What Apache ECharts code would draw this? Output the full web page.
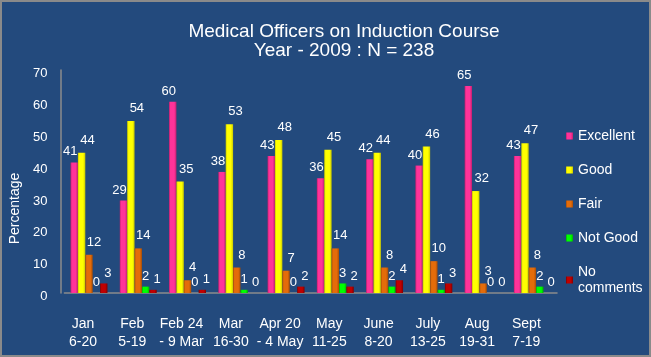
<!DOCTYPE html>
<html>
<head>
<meta charset="utf-8">
<script src="https://cdn.jsdelivr.net/npm/echarts@6/dist/echarts.min.js"></script>
<style>
html,body{margin:0;padding:0;background:#234a7d;}
#wrap{position:relative;width:651px;height:357px;}
#chart{position:absolute;left:0;top:0;width:651px;height:357px;}
#frame{position:absolute;left:0;top:0;width:651px;height:357px;box-sizing:border-box;border:2px solid #8a8a8a;pointer-events:none;}
</style>
</head>
<body>
<div id="wrap"><div id="chart"></div><div id="frame"></div></div>
<script>
var categories = ["Jan\n6-20", "Feb\n5-19", "Feb 24\n- 9 Mar", "Mar\n16-30", "Apr 20\n- 4 May", "May\n11-25", "June\n8-20", "July\n13-25", "Aug\n19-31", "Sept\n7-19"];
var excellent = [41, 29, 60, 38, 43, 36, 42, 40, 65, 43];
var good = [44, 54, 35, 53, 48, 45, 44, 46, 32, 47];
var fair = [12, 14, 4, 8, 7, 14, 8, 10, 3, 8];
var notGood = [0, 2, 0, 1, 0, 3, 2, 1, 0, 2];
var noComments = [3, 1, 1, 0, 2, 2, 4, 3, 0, 0];
var yTicks = [0, 10, 20, 30, 40, 50, 60, 70];

var seriesDefs = [
  {name: 'Excellent', data: excellent, color: '#ff3399', dark: '#c0206e', off: -4, dist: 4},
  {name: 'Good', data: good, color: '#ffff00', dark: '#c8c800', off: 6, dist: 6},
  {name: 'Fair', data: fair, color: '#e46c0a', dark: '#a94d05', off: 5, dist: 6},
  {name: 'Not Good', data: notGood, color: '#00ff00', dark: '#00b000', off: 0, dist: 4},
  {name: 'No comments', data: noComments, color: '#c00000', dark: '#800000', off: 4, dist: 4}
];

var chart = echarts.init(document.getElementById('chart'));
var font = 'Liberation Sans, Arial, sans-serif';
chart.setOption({
  backgroundColor: '#234a7d',
  animation: false,
  title: {
    text: 'Medical Officers on Induction Course\nYear - 2009 : N = 238',
    left: 339, top: 17, textAlign: 'center',
    textStyle: {color: '#ffffff', fontSize: 19, fontWeight: 'normal', fontFamily: font, lineHeight: 19}
  },
  legend: {
    orient: 'vertical', left: 561, top: 123,
    itemWidth: 7, itemHeight: 7, itemGap: 18,
    icon: 'rect',
    formatter: function (n) { return n === 'No comments' ? 'No\ncomments' : n; },
    textStyle: {color: '#ffffff', fontSize: 14, fontFamily: font, lineHeight: 16}
  },
  grid: {left: 62, right: 94, top: 70, bottom: 64},
  xAxis: {
    type: 'category', data: categories, offset: 3,
    axisLine: {lineStyle: {color: '#8c8c8c', width: 1.5}},
    axisTick: {show: false},
    axisLabel: {color: '#ffffff', fontSize: 14, fontFamily: font, lineHeight: 18, margin: 19, interval: 0, padding: [0, 12, 0, 0]}
  },
  yAxis: {
    type: 'value', min: 0, max: 70, interval: 10, offset: 4,
    name: 'Percentage', nameLocation: 'middle', nameGap: 34,
    nameTextStyle: {color: '#ffffff', fontSize: 14, fontFamily: font, padding: [0, 54, 0, 0]},
    axisLine: {show: true, lineStyle: {color: '#8c8c8c', width: 1.5}},
    axisTick: {show: false},
    splitLine: {show: false},
    axisLabel: {margin: 13,
      formatter: function (v) { return yTicks.indexOf(v) >= 0 ? '{a|' + v + '}' : ''; },
      rich: {a: {color: '#ffffff', fontSize: 13, fontFamily: font, padding: [7, 0, 0, 0]}}
    }
  },
  series: seriesDefs.map(function (s) {
    return {
      name: s.name, type: 'bar', data: s.data,
      barGap: '0%', barCategoryGap: '25%',
      itemStyle: {
        color: new echarts.graphic.LinearGradient(0, 0, 1, 0, [
          {offset: 0, color: s.dark}, {offset: 0.2, color: s.color},
          {offset: 0.7, color: s.color}, {offset: 1, color: s.dark}
        ])
      },
      label: {show: true, position: 'top', distance: s.dist, offset: [s.off, 0],
        color: '#ffffff', fontSize: 13, fontFamily: font}
    };
  })
});
</script>
</body>
</html>
